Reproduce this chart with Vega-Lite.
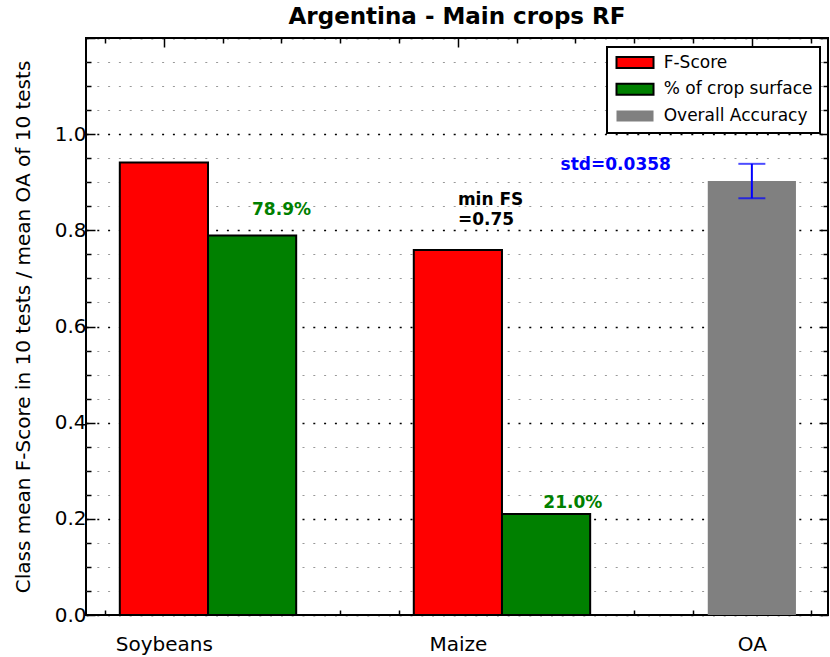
{
  "$schema": "https://vega.github.io/schema/vega-lite/v6.json",
  "width": 742,
  "height": 577,
  "autosize": {"type": "none"},
  "padding": {"left": 86, "top": 38, "right": 2, "bottom": 42},
  "background": "white",
  "title": {"text": "Argentina - Main crops RF", "font": "DejaVu Sans", "fontSize": 23, "fontWeight": "bold", "color": "black", "anchor": "middle", "baseline": "alphabetic", "offset": -19},
  "config": {
    "view": {"stroke": "black", "strokeWidth": 2},
    "font": "DejaVu Sans",
    "legend": {
      "orient": "none",
      "legendX": 521,
      "legendY": 9,
      "padding": 7,
      "fillColor": "white",
      "strokeColor": "black",
      "strokeWidth": 2,
      "symbolType": "M-1,-0.92H5.17V0.92H-1Z",
      "symbolSize": 144,
      "symbolStrokeWidth": 2,
      "symbolOpacity": 1,
      "labelFont": "DejaVu Sans",
      "labelFontSize": 17,
      "labelColor": "black",
      "labelOffset": 32.7,
      "rowPadding": 5.8,
      "labelLimit": 300
    }
  },
  "datasets": {
    "bars": [
      {"crop": "Soybeans", "series": "F-Score", "value": 0.941, "start": -0.15, "end": 0.15},
      {"crop": "Soybeans", "series": "% of crop surface", "value": 0.789, "start": 0.15, "end": 0.45},
      {"crop": "Maize", "series": "F-Score", "value": 0.759, "start": 0.85, "end": 1.15},
      {"crop": "Maize", "series": "% of crop surface", "value": 0.21, "start": 1.15, "end": 1.45},
      {"crop": "OA", "series": "Overall Accuracy", "value": 0.9025, "start": 1.85, "end": 2.15}
    ],
    "err": [
      {"crop": "OA", "pos": 2, "mean": 0.9025, "lower": 0.8667, "upper": 0.9383}
    ],
    "pct": [
      {"label": "78.9%", "x": 0.40, "y": 0.8425},
      {"label": "21.0%", "x": 1.391, "y": 0.233}
    ],
    "minfs": [
      {"label": "min FS", "x": 1.0, "y": 0.863},
      {"label": "=0.75", "x": 1.0, "y": 0.822}
    ],
    "std": [
      {"label": "std=0.0358", "x": 1.537, "y": 0.936}
    ]
  },
  "layer": [
    {
      "data": {"name": "bars"},
      "mark": {"type": "bar", "strokeWidth": 2},
      "encoding": {
        "x": {
          "field": "start", "type": "quantitative",
          "scale": {"domain": [-0.265, 2.259], "nice": false, "zero": false},
          "axis": {
            "orient": "bottom",
            "values": [-0.2, 0, 0.2, 0.4, 0.6, 0.8, 1, 1.2, 1.4, 1.6, 1.8, 2, 2.2],
            "domain": false, "grid": false, "title": null,
            "labelExpr": "datum.value == 0 ? 'Soybeans' : datum.value == 1 ? 'Maize' : datum.value == 2 ? 'OA' : ''",
            "labelFont": "DejaVu Sans", "labelFontSize": 20, "labelColor": "black",
            "labelPadding": 28, "labelOverlap": false, "labelFlush": false,
            "tickColor": "black", "tickWidth": 1.5,
            "tickSize": {"condition": {"test": "datum.value == round(datum.value)", "value": -9}, "value": -5}
          }
        },
        "x2": {"field": "end"},
        "y": {
          "field": "value", "type": "quantitative",
          "scale": {"domain": [0, 1.2], "nice": false, "zero": true},
          "axis": {
            "orient": "left",
            "values": [0, 0.05, 0.1, 0.15, 0.2, 0.25, 0.3, 0.35, 0.4, 0.45, 0.5, 0.55, 0.6, 0.65, 0.7, 0.75, 0.8, 0.85, 0.9, 0.95, 1.0, 1.05, 1.1, 1.15, 1.2],
            "domain": false, "grid": true,
            "gridDash": [2, 8.8],
            "gridColor": {"condition": {"test": "abs(datum.value*5 - round(datum.value*5)) < 0.001", "value": "#000000"}, "value": "#999999"},
            "gridWidth": {"condition": {"test": "abs(datum.value*5 - round(datum.value*5)) < 0.001", "value": 1.6}, "value": 1.2},
            "title": "Class mean F-Score in 10 tests / mean OA of 10 tests",
            "titleFont": "DejaVu Sans", "titleFontSize": 20, "titleFontWeight": "normal", "titleColor": "black",
            "titlePadding": 21,
            "labelExpr": "abs(datum.value*5 - round(datum.value*5)) < 0.001 && datum.value < 1.1 ? format(datum.value, '.1f') : ''",
            "labelFont": "DejaVu Sans", "labelFontSize": 20, "labelColor": "black",
            "labelPadding": 9, "labelOverlap": false, "labelFlush": false,
            "tickColor": "black", "tickWidth": 1.5,
            "tickSize": {"condition": {"test": "abs(datum.value*5 - round(datum.value*5)) < 0.001", "value": -9}, "value": -5}
          }
        },
        "y2": {"datum": 0},
        "fill": {
          "field": "series", "type": "nominal",
          "scale": {"domain": ["F-Score", "% of crop surface", "Overall Accuracy"], "range": ["#ff0000", "#008000", "#808080"]},
          "legend": {"title": null}
        },
        "stroke": {
          "field": "series", "type": "nominal",
          "scale": {"domain": ["F-Score", "% of crop surface", "Overall Accuracy"], "range": ["#000000", "#000000", "transparent"]},
          "legend": {"title": null}
        }
      }
    },
    {
      "data": {"name": "err"},
      "mark": {"type": "rule", "color": "#0000ff", "strokeWidth": 2},
      "encoding": {
        "x": {
          "field": "pos", "type": "quantitative",
          "scale": {"domain": [-0.265, 2.259], "nice": false, "zero": false},
          "axis": {
            "orient": "top",
            "values": [-0.2, 0, 0.2, 0.4, 0.6, 0.8, 1, 1.2, 1.4, 1.6, 1.8, 2, 2.2],
            "domain": false, "grid": false, "labels": false, "title": null,
            "tickColor": "black", "tickWidth": 1.5,
            "tickSize": {"condition": {"test": "datum.value == round(datum.value)", "value": -9}, "value": -5}
          }
        },
        "y": {
          "field": "lower", "type": "quantitative",
          "scale": {"domain": [0, 1.2], "nice": false, "zero": true},
          "axis": {
            "orient": "right",
            "values": [0, 0.05, 0.1, 0.15, 0.2, 0.25, 0.3, 0.35, 0.4, 0.45, 0.5, 0.55, 0.6, 0.65, 0.7, 0.75, 0.8, 0.85, 0.9, 0.95, 1.0, 1.05, 1.1, 1.15, 1.2],
            "domain": false, "grid": false, "labels": false, "title": null,
            "tickColor": "black", "tickWidth": 1.5,
            "tickSize": {"condition": {"test": "abs(datum.value*5 - round(datum.value*5)) < 0.001", "value": -9}, "value": -5}
          }
        },
        "y2": {"field": "upper"}
      }
    },
    {
      "data": {"name": "err"},
      "mark": {"type": "tick", "orient": "horizontal", "color": "#0000ff", "size": 27, "thickness": 2},
      "encoding": {
        "x": {"field": "pos", "type": "quantitative", "scale": {"domain": [-0.265, 2.259], "nice": false, "zero": false}, "axis": null},
        "y": {"field": "lower", "type": "quantitative", "scale": {"domain": [0, 1.2], "nice": false, "zero": true}, "axis": null}
      }
    },
    {
      "data": {"name": "err"},
      "mark": {"type": "tick", "orient": "horizontal", "color": "#0000ff", "size": 27, "thickness": 2},
      "encoding": {
        "x": {"field": "pos", "type": "quantitative", "scale": {"domain": [-0.265, 2.259], "nice": false, "zero": false}, "axis": null},
        "y": {"field": "upper", "type": "quantitative", "scale": {"domain": [0, 1.2], "nice": false, "zero": true}, "axis": null}
      }
    },
    {
      "data": {"name": "pct"},
      "mark": {"type": "text", "font": "DejaVu Sans", "fontSize": 17, "fontWeight": "bold", "color": "#008000", "align": "center", "baseline": "middle"},
      "encoding": {
        "x": {"field": "x", "type": "quantitative", "scale": {"domain": [-0.265, 2.259], "nice": false, "zero": false}, "axis": null},
        "y": {"field": "y", "type": "quantitative", "scale": {"domain": [0, 1.2], "nice": false, "zero": true}, "axis": null},
        "text": {"field": "label", "type": "nominal"}
      }
    },
    {
      "data": {"name": "minfs"},
      "mark": {"type": "text", "font": "DejaVu Sans", "fontSize": 17, "fontWeight": "bold", "color": "#000000", "align": "left", "baseline": "middle"},
      "encoding": {
        "x": {"field": "x", "type": "quantitative", "scale": {"domain": [-0.265, 2.259], "nice": false, "zero": false}, "axis": null},
        "y": {"field": "y", "type": "quantitative", "scale": {"domain": [0, 1.2], "nice": false, "zero": true}, "axis": null},
        "text": {"field": "label", "type": "nominal"}
      }
    },
    {
      "data": {"name": "std"},
      "mark": {"type": "text", "font": "DejaVu Sans", "fontSize": 17, "fontWeight": "bold", "color": "#0000ff", "align": "center", "baseline": "middle"},
      "encoding": {
        "x": {"field": "x", "type": "quantitative", "scale": {"domain": [-0.265, 2.259], "nice": false, "zero": false}, "axis": null},
        "y": {"field": "y", "type": "quantitative", "scale": {"domain": [0, 1.2], "nice": false, "zero": true}, "axis": null},
        "text": {"field": "label", "type": "nominal"}
      }
    }
  ],
  "resolve": {"axis": {"x": "independent", "y": "independent"}}
}
